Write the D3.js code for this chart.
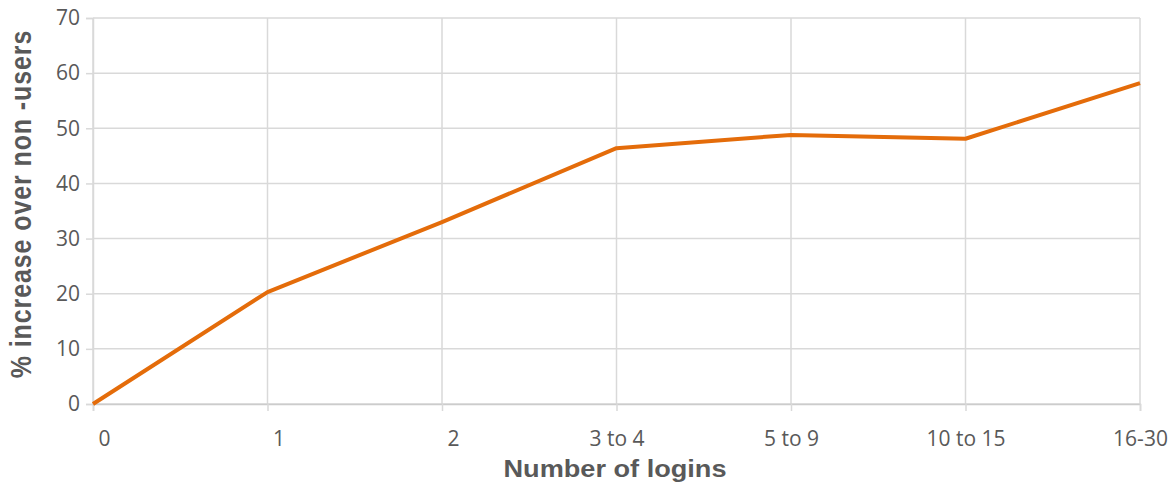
<!DOCTYPE html>
<html>
<head>
<meta charset="utf-8">
<script src="https://cdn.jsdelivr.net/npm/d3@7"></script>
<style>
  body { margin: 0; background: #fff; }
  svg { display: block; }
</style>
</head>
<body>
<svg class="logins" width="1175" height="484"></svg>
<script>
const categories = ["0", "1", "2", "3 to 4", "5 to 9", "10 to 15", "16-30"];
const increase = [0, 20.3, 33.0, 46.4, 48.8, 48.1, 58.2];
const yTicks = [0, 10, 20, 30, 40, 50, 60, 70];

var svg = d3.select("svg.logins"),
  margin = { top: 18, right: 35, bottom: 80, left: 93 },
  width = +svg.attr("width") - margin.left - margin.right,
  height = +svg.attr("height") - margin.top - margin.bottom;

const LINE_COLOR = "#e46c0a";
const GRID_COLOR = "#d9d9d9";
const TEXT_COLOR = "#595959";

const chartG = svg
  .append("g")
  .attr("transform", `translate(${margin.left}, ${margin.top})`);

const xScale = d3.scalePoint().domain(categories).range([0, width]);
const yScale = d3.scaleLinear().domain([0, 70]).range([height, 0]);

// gridlines
chartG
  .append("g")
  .selectAll("line")
  .data(yTicks)
  .enter()
  .append("line")
  .attr("x1", 0)
  .attr("x2", width)
  .attr("y1", (d) => yScale(d))
  .attr("y2", (d) => yScale(d))
  .attr("stroke", GRID_COLOR)
  .attr("stroke-width", 1.5);

chartG
  .append("g")
  .selectAll("line")
  .data(categories)
  .enter()
  .append("line")
  .attr("x1", (d) => xScale(d))
  .attr("x2", (d) => xScale(d))
  .attr("y1", 0)
  .attr("y2", height)
  .attr("stroke", GRID_COLOR)
  .attr("stroke-width", 1.5);

// AXES
var yAxis = d3.axisLeft(yScale).tickValues(yTicks).tickSize(7).tickPadding(6);
var xAxis = d3.axisBottom(xScale).tickSize(7).tickPadding(20);

chartG
  .append("g")
  .attr("class", "y axis")
  .call(yAxis)
  .call((g) => g.select(".domain").attr("stroke", GRID_COLOR).attr("stroke-width", 1.5))
  .call((g) => g.selectAll(".tick line").attr("stroke", GRID_COLOR).attr("stroke-width", 1.5))
  .call((g) =>
    g
      .selectAll(".tick text")
      .attr("fill", TEXT_COLOR)
      .style("font-family", "'Open Sans', sans-serif")
      .style("font-size", "21px")
  );

chartG
  .append("g")
  .attr("class", "x axis")
  .attr("transform", `translate(0, ${height})`)
  .call(xAxis)
  .call((g) => g.select(".domain").attr("stroke", "#cccccc").attr("stroke-width", 1.5))
  .call((g) => g.selectAll(".tick line").attr("stroke", GRID_COLOR).attr("stroke-width", 1.5))
  .call((g) =>
    g
      .selectAll(".tick text")
      .attr("fill", TEXT_COLOR)
      .attr("dx", (d) => (d.length === 1 ? 11 : 0))
      .style("font-family", "'Open Sans', sans-serif")
      .style("font-size", "21px")
  );

// LINE
const line = d3
  .line()
  .x((d, i) => xScale(categories[i]))
  .y((d) => yScale(d));

chartG
  .append("path")
  .datum(increase)
  .attr("d", line)
  .attr("fill", "none")
  .attr("stroke", LINE_COLOR)
  .attr("stroke-width", 4)
  .attr("stroke-linejoin", "round");

// axis titles
svg
  .append("text")
  .attr("transform", `translate(615, 477) scale(1.18, 1)`)
  .attr("text-anchor", "middle")
  .attr("fill", TEXT_COLOR)
  .style("font-family", "'Liberation Sans', Arial, sans-serif")
  .style("font-weight", "bold")
  .style("font-size", "23px")
  .text("Number of logins");

svg
  .append("text")
  .attr("transform", `translate(31, 204) scale(1.2, 1) rotate(-90)`)
  .attr("text-anchor", "middle")
  .attr("fill", TEXT_COLOR)
  .style("font-family", "'Liberation Sans', Arial, sans-serif")
  .style("font-weight", "bold")
  .style("font-size", "25px")
  .style("letter-spacing", "0.9px")
  .text("% increase over non -users");
</script>
</body>
</html>
